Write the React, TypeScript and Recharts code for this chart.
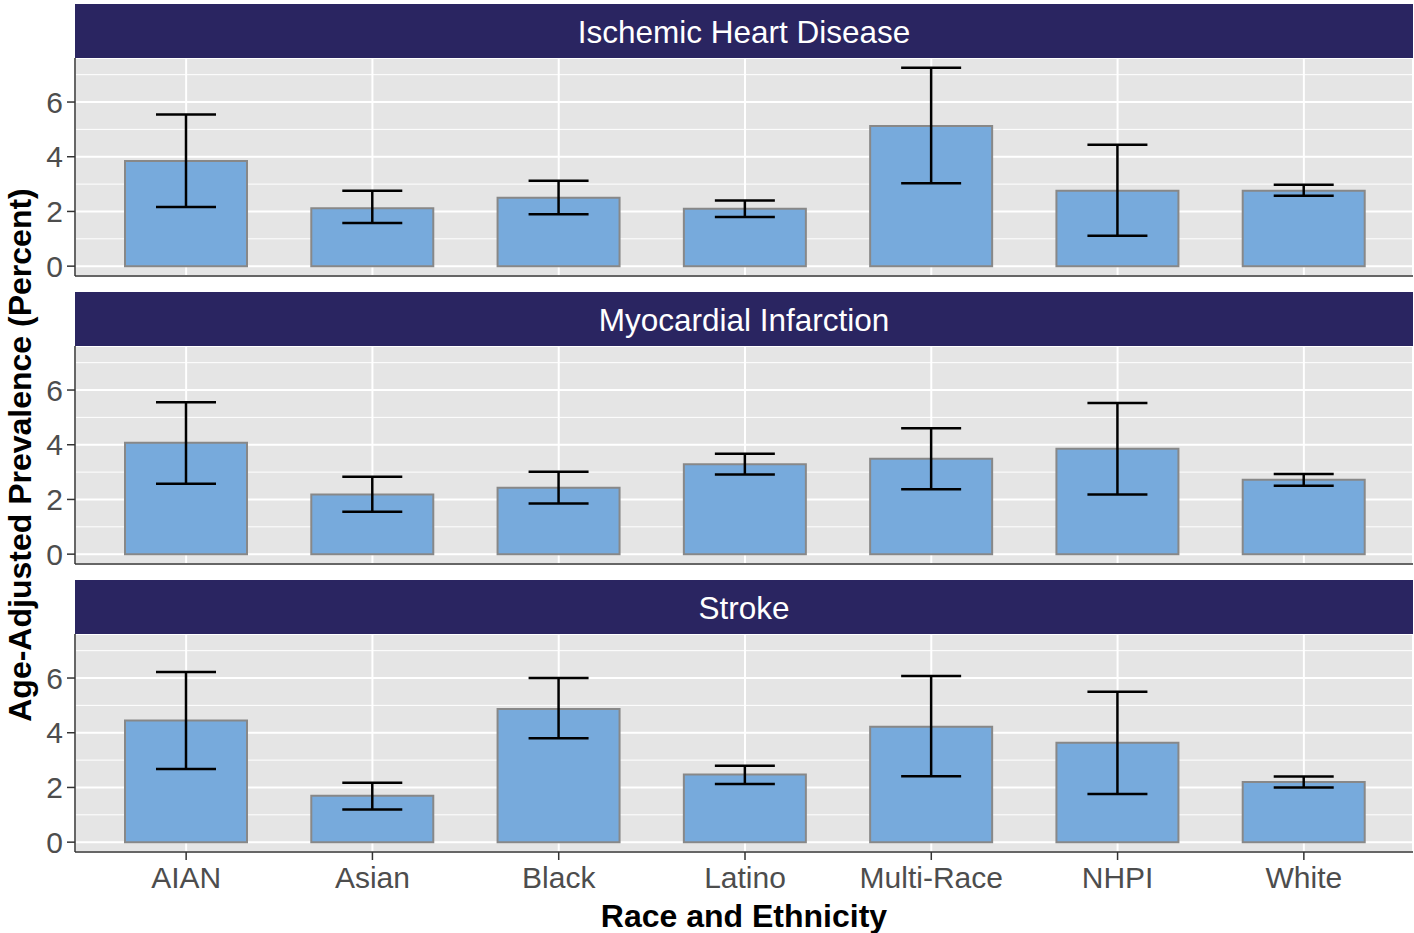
import React from 'react';
import { BarChart, Bar, XAxis, YAxis, CartesianGrid, ErrorBar } from 'recharts';

const categories = ['AIAN', 'Asian', 'Black', 'Latino', 'Multi-Race', 'NHPI', 'White'];
const facetTitles = ['Ischemic Heart Disease', 'Myocardial Infarction', 'Stroke'];

const ihdValue = [3.84, 2.12, 2.5, 2.1, 5.12, 2.76, 2.76];
const ihdLower = [2.16, 1.58, 1.9, 1.8, 3.03, 1.11, 2.57];
const ihdUpper = [5.54, 2.76, 3.12, 2.4, 7.25, 4.44, 2.98];

const miValue = [4.07, 2.18, 2.43, 3.29, 3.49, 3.85, 2.72];
const miLower = [2.57, 1.55, 1.85, 2.91, 2.37, 2.18, 2.5];
const miUpper = [5.55, 2.83, 3.01, 3.67, 4.6, 5.53, 2.93];

const strokeValue = [4.45, 1.7, 4.87, 2.47, 4.22, 3.63, 2.2];
const strokeLower = [2.67, 1.19, 3.8, 2.13, 2.41, 1.76, 2.0];
const strokeUpper = [6.22, 2.17, 6.0, 2.79, 6.07, 5.5, 2.4];

const yTicks = [0, 2, 4, 6];
const yMinorTicks = [1, 3, 5, 7];
const yDomain = [-0.36, 7.61];

const xTitle = 'Race and Ethnicity';
const yTitle = 'Age-Adjusted Prevalence (Percent)';

const FONT = '"Liberation Sans", Arial, Helvetica, sans-serif';
const STRIP_BG = '#2A2561';
const PANEL_BG = '#E5E5E5';
const BAR_FILL = '#77AADC';
const BAR_STROKE = '#888888';
const AXIS_COLOR = '#333333';
const TICK_TEXT = '#4D4D4D';

const CHART_W = 1414;
const LEFT = 75;
const PANEL_H = 218;
const STRIP_H = 54;
const FACET_PERIOD = 288;

function buildRows(values: number[], lower: number[], upper: number[]) {
  return categories.map((c, i) => ({
    category: c,
    value: values[i],
    err: [values[i] - lower[i], upper[i] - values[i]],
  }));
}

const facets = [
  { title: facetTitles[0], rows: buildRows(ihdValue, ihdLower, ihdUpper) },
  { title: facetTitles[1], rows: buildRows(miValue, miLower, miUpper) },
  { title: facetTitles[2], rows: buildRows(strokeValue, strokeLower, strokeUpper) },
];

const EmptyTick = () => <g />;

function Facet({ title, rows, top, showX }: { title: string; rows: any[]; top: number; showX: boolean }) {
  const xAxisH = showX ? 50 : 16;
  return (
    <>
      <div style={{ position: 'absolute', left: 0, top: top + STRIP_H }}>
        <BarChart
          width={CHART_W}
          height={PANEL_H + xAxisH}
          data={rows}
          margin={{ top: 0, right: 1, bottom: 0, left: 0 }}
        >
          <CartesianGrid
            horizontalValues={yMinorTicks}
            vertical={false}
            stroke="#FFFFFF"
            strokeWidth={1}
            fill={PANEL_BG}
          />
          <CartesianGrid stroke="#FFFFFF" strokeWidth={2} />
          <XAxis
            dataKey="category"
            type="category"
            padding={{ left: 18, right: 16 }}
            height={xAxisH}
            axisLine={{ stroke: AXIS_COLOR, strokeWidth: 1.5 }}
            tickLine={showX ? { stroke: AXIS_COLOR, strokeWidth: 1.5 } : false}
            tick={showX ? { fill: TICK_TEXT, fontSize: 30, fontFamily: FONT } : EmptyTick}
            tickSize={8}
            tickMargin={7}
            interval={0}
          />
          <YAxis
            type="number"
            domain={yDomain}
            ticks={yTicks}
            interval={0}
            width={LEFT}
            axisLine={{ stroke: AXIS_COLOR, strokeWidth: 1.5 }}
            tickLine={{ stroke: AXIS_COLOR, strokeWidth: 1.5 }}
            tick={{ fill: TICK_TEXT, fontSize: 30, fontFamily: FONT }}
            tickSize={8}
            tickMargin={4}
            allowDataOverflow
          />
          <Bar
            dataKey="value"
            fill={BAR_FILL}
            stroke={BAR_STROKE}
            strokeWidth={2}
            barSize={122}
            isAnimationActive={false}
          >
            <ErrorBar dataKey="err" width={30} stroke="#000000" strokeWidth={2.5} isAnimationActive={false} />
          </Bar>
        </BarChart>
      </div>
      <div
        style={{
          position: 'absolute',
          left: LEFT,
          top: top,
          width: CHART_W - LEFT - 1,
          height: STRIP_H,
          background: STRIP_BG,
          color: '#FFFFFF',
          fontFamily: FONT,
          fontSize: 31.5,
          lineHeight: `${STRIP_H + 2}px`,
          textAlign: 'center',
        }}
      >
        {title}
      </div>
    </>
  );
}

export default function App() {
  return (
    <div
      style={{
        position: 'absolute',
        left: 0,
        top: 0,
        width: 1414,
        height: 933,
        background: '#FFFFFF',
        overflow: 'hidden',
        fontFamily: FONT,
      }}
    >
      {facets.map((f, i) => (
        <Facet key={f.title} title={f.title} rows={f.rows} top={4 + i * FACET_PERIOD} showX={i === facets.length - 1} />
      ))}
      <div
        style={{
          position: 'absolute',
          left: LEFT,
          width: CHART_W - LEFT - 1,
          top: 898,
          textAlign: 'center',
          fontSize: 32,
          fontWeight: 'bold',
          lineHeight: '36px',
          color: '#000000',
        }}
      >
        {xTitle}
      </div>
      <div
        style={{
          position: 'absolute',
          left: 20 - 400,
          top: 455 - 18,
          width: 800,
          height: 36,
          lineHeight: '36px',
          textAlign: 'center',
          fontSize: 32,
          fontWeight: 'bold',
          color: '#000000',
          transform: 'rotate(-90deg)',
          transformOrigin: '50% 50%',
        }}
      >
        {yTitle}
      </div>
    </div>
  );
}
